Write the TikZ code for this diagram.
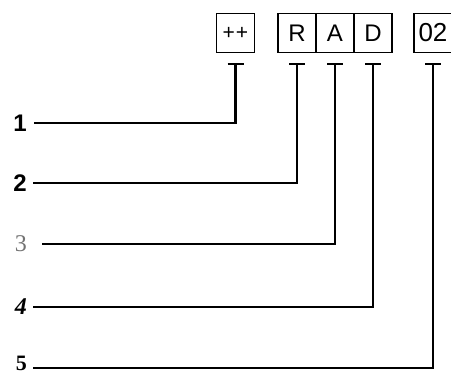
\documentclass[tikz,border=0pt]{standalone}
\usepackage{fontspec}
\setmainfont{Liberation Sans}
\newfontfamily\serfont{Liberation Serif}
\begin{document}
\begin{tikzpicture}[x=1pt,y=-1pt,
  cell/.style={draw, line width=1.7pt, minimum width=38pt, minimum height=39pt, inner sep=0pt, font=\fontsize{24}{24}\selectfont},
  conn/.style={line width=2.4pt},
  tbar/.style={line width=2pt},
  lab/.style={anchor=east, inner sep=0pt, font=\fontsize{24}{24}\selectfont}]
\useasboundingbox (0,0) rectangle (451,376);
\clip (0,0) rectangle (451,376);
% boxes
\node[cell] (b1) at (235.5,33) {\fontsize{21}{21}\selectfont +\hspace{1pt}+};
\node[cell] (bR) at (297,33) {R};
\node[cell] (bA) at (335,33) {A};
\node[cell] (bD) at (373,33) {D};
\node[cell, font=\fontsize{26}{26}\selectfont] (b02) at (433,33) {02};
% T junctions
\foreach \b in {b1,bR,bA,bD,b02}{
  \coordinate (t\b) at ([yshift=-11pt]\b.south);
  \draw[tbar] ([xshift=-8pt]t\b) -- ([xshift=8pt]t\b);
}
% labels
\node[lab, font=\fontsize{24}{24}\selectfont\bfseries] (l1) at (27,123) {1};
\node[lab, font=\fontsize{24}{24}\selectfont\bfseries] (l2) at (27,183) {2};
\node[lab, text=black!55, font=\fontsize{24}{24}\serfont] (l3) at (27,244) {3};
\node[lab, font=\fontsize{24}{24}\serfont\bfseries\itshape] (l4) at (27,307) {4};
\node[lab, font=\fontsize{22}{22}\serfont\bfseries] (l5) at (27,363) {5};
% connectors
\coordinate (s5) at (33,368);
\draw[conn] ([xshift=7pt]l1.east) -| (tb1);
\draw[conn] ([xshift=6pt]l2.east) -| (tbR);
\draw[conn] ([xshift=15pt]l3.east) -| (tbA);
\draw[conn] ([xshift=6pt]l4.east) -| (tbD);
\draw[conn] (s5) -| (tb02);
\end{tikzpicture}
\end{document}
